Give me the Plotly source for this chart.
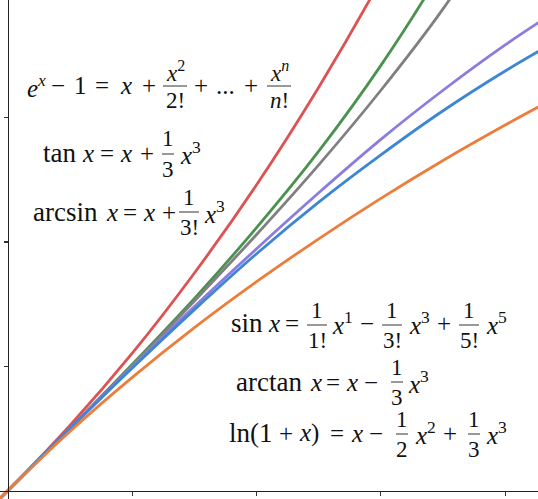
import plotly.graph_objects as go

# ---- data ----
x_vals = [-0.05, 0.0, 0.1, 0.2, 0.3, 0.4, 0.5, 0.6, 0.7, 0.8, 0.9]
exp_m1 = [-0.049, 0.0, 0.105, 0.221, 0.350, 0.492, 0.649, 0.822, 1.014, 1.226, 1.460]
tan_v = [-0.050, 0.0, 0.100, 0.203, 0.309, 0.423, 0.546, 0.684, 0.842, 1.030, 1.260]
arcsin_v = [-0.050, 0.0, 0.100, 0.201, 0.305, 0.412, 0.524, 0.644, 0.775, 0.927, 1.120]
sin_v = [-0.050, 0.0, 0.0998, 0.199, 0.296, 0.389, 0.479, 0.565, 0.644, 0.717, 0.783]
arctan_v = [-0.050, 0.0, 0.0997, 0.197, 0.291, 0.381, 0.464, 0.540, 0.611, 0.675, 0.733]
ln1p_v = [-0.051, 0.0, 0.0953, 0.182, 0.262, 0.336, 0.405, 0.470, 0.531, 0.588, 0.642]

series = [
    ("e^x-1", exp_m1, "#dd5252"),
    ("tan", tan_v, "#4b9150"),
    ("arcsin", arcsin_v, "#808080"),
    ("sin", sin_v, "#8b7de0"),
    ("arctan", arctan_v, "#3d86d3"),
    ("ln(1+x)", ln1p_v, "#ec7e3c"),
]
x_ticks = [0.2, 0.4, 0.6, 0.8]
y_ticks = [0.2, 0.4, 0.6]

W, H = 538, 499
PX_PER_UNIT = 621.5
X0_PX, Y0_PX = 8.0, 490.5
xr = [-X0_PX / PX_PER_UNIT, (W - X0_PX) / PX_PER_UNIT]
yr = [-(H - Y0_PX) / PX_PER_UNIT, Y0_PX / PX_PER_UNIT]

fig = go.Figure()
for name, ys, col in series:
    fig.add_trace(go.Scatter(x=x_vals, y=ys, mode="lines", name=name,
                             line=dict(color=col, width=2.8, shape="spline"),
                             hoverinfo="skip"))

FONT = "Liberation Serif, Times New Roman, serif"
FS = 25
WS = 27
ann = []
shapes = []


def px(xp):
    return xp / W


def py(yp):
    return 1 - yp / H


def txt(s, x, y, size=FS, anchor="center"):
    ann.append(dict(text=s, x=px(x), y=py(y), xref="paper", yref="paper",
                    xanchor=anchor, yanchor="middle", showarrow=False,
                    font=dict(family=FONT, size=size, color="#111111")))


def frac(num, den, xc, yc, w=16):
    txt(num, xc, yc - 15, size=FS - 2)
    txt(den, xc, yc + 15, size=FS - 2)
    shapes.append(dict(type="line", xref="paper", yref="paper",
                       x0=px(xc - w / 2), x1=px(xc + w / 2), y0=py(yc), y1=py(yc),
                       line=dict(color="#333333", width=1)))


def row(pieces, y):
    for p in pieces:
        s, xc = p[0], p[1]
        size = p[2] if len(p) > 2 else FS
        txt(s, xc, y, size=size)


X = "<i>x</i>"
# label 1: e^x - 1 = x + x^2/2! + ... + x^n/n!
row([("<i>e</i><sup><i>x</i></sup>", 36), ("−", 58), ("1", 80), ("=", 102),
     (X, 126), ("+", 149), ("+", 201), ("...", 225), ("+", 251)], 86)
frac(X + "<sup>2</sup>", "2!", 175, 86, 24)
frac(X + "<sup><i>n</i></sup>", "<i>n</i>!", 279, 86, 24)
# label 2: tan x = x + 1/3 x^3
row([("tan", 59, WS), (X, 88), ("=", 107), (X, 126), ("+", 147),
     (X + "<sup>3</sup>", 190)], 153)
frac("1", "3", 168, 154, 12)
# label 3: arcsin x = x + 1/3! x^3
row([("arcsin", 65, WS), (X, 112), ("=", 130), (X, 149), ("+", 169),
     (X + "<sup>3</sup>", 214)], 212)
frac("1", "3!", 189, 212, 20)
# label 4: sin x = 1/1! x^1 - 1/3! x^3 + 1/5! x^5
row([("sin", 247, WS), (X, 274), ("=", 292), (X + "<sup>1</sup>", 342), ("−", 367),
     (X + "<sup>3</sup>", 419), ("+", 444), (X + "<sup>5</sup>", 496)], 323)
frac("1", "1!", 317, 325, 20)
frac("1", "3!", 392, 325, 20)
frac("1", "5!", 469, 325, 20)
# label 5: arctan x = x - 1/3 x^3
row([("arctan", 269, WS), (X, 316), ("=", 333), (X, 352), ("−", 371),
     (X + "<sup>3</sup>", 418)], 382)
frac("1", "3", 397, 382, 12)
# label 6: ln(1 + x) = x - 1/2 x^2 + 1/3 x^3
row([("ln(1", 251, WS), ("+", 286), (X + ")", 309), ("=", 337), (X, 357),
     ("−", 376), (X + "<sup>2</sup>", 425), ("+", 450), (X + "<sup>3</sup>", 496)], 433)
frac("1", "2", 402, 434, 12)
frac("1", "3", 474, 434, 12)

ypos = (0 - yr[0]) / (yr[1] - yr[0])
xpos = (0 - xr[0]) / (xr[1] - xr[0])

fig.update_layout(
    width=W, height=H, margin=dict(l=0, r=0, t=0, b=0),
    paper_bgcolor="white", plot_bgcolor="white", showlegend=False,
    annotations=ann, shapes=shapes,
    xaxis=dict(range=xr, showgrid=False, zeroline=False, showline=True,
               linecolor="#222222", linewidth=1.3, anchor="free", position=ypos,
               ticks="outside", ticklen=4, tickwidth=1.2, tickcolor="#333333",
               tickvals=x_ticks, showticklabels=False),
    yaxis=dict(range=yr, showgrid=False, zeroline=False, showline=True,
               linecolor="#222222", linewidth=1.3, anchor="free", position=xpos,
               ticks="outside", ticklen=4, tickwidth=1.2, tickcolor="#333333",
               tickvals=y_ticks, showticklabels=False),
)
fig.write_html("out.html", config={"staticPlot": True},
               post_script="document.body.style.margin='0px';document.body.style.overflow='hidden';")
